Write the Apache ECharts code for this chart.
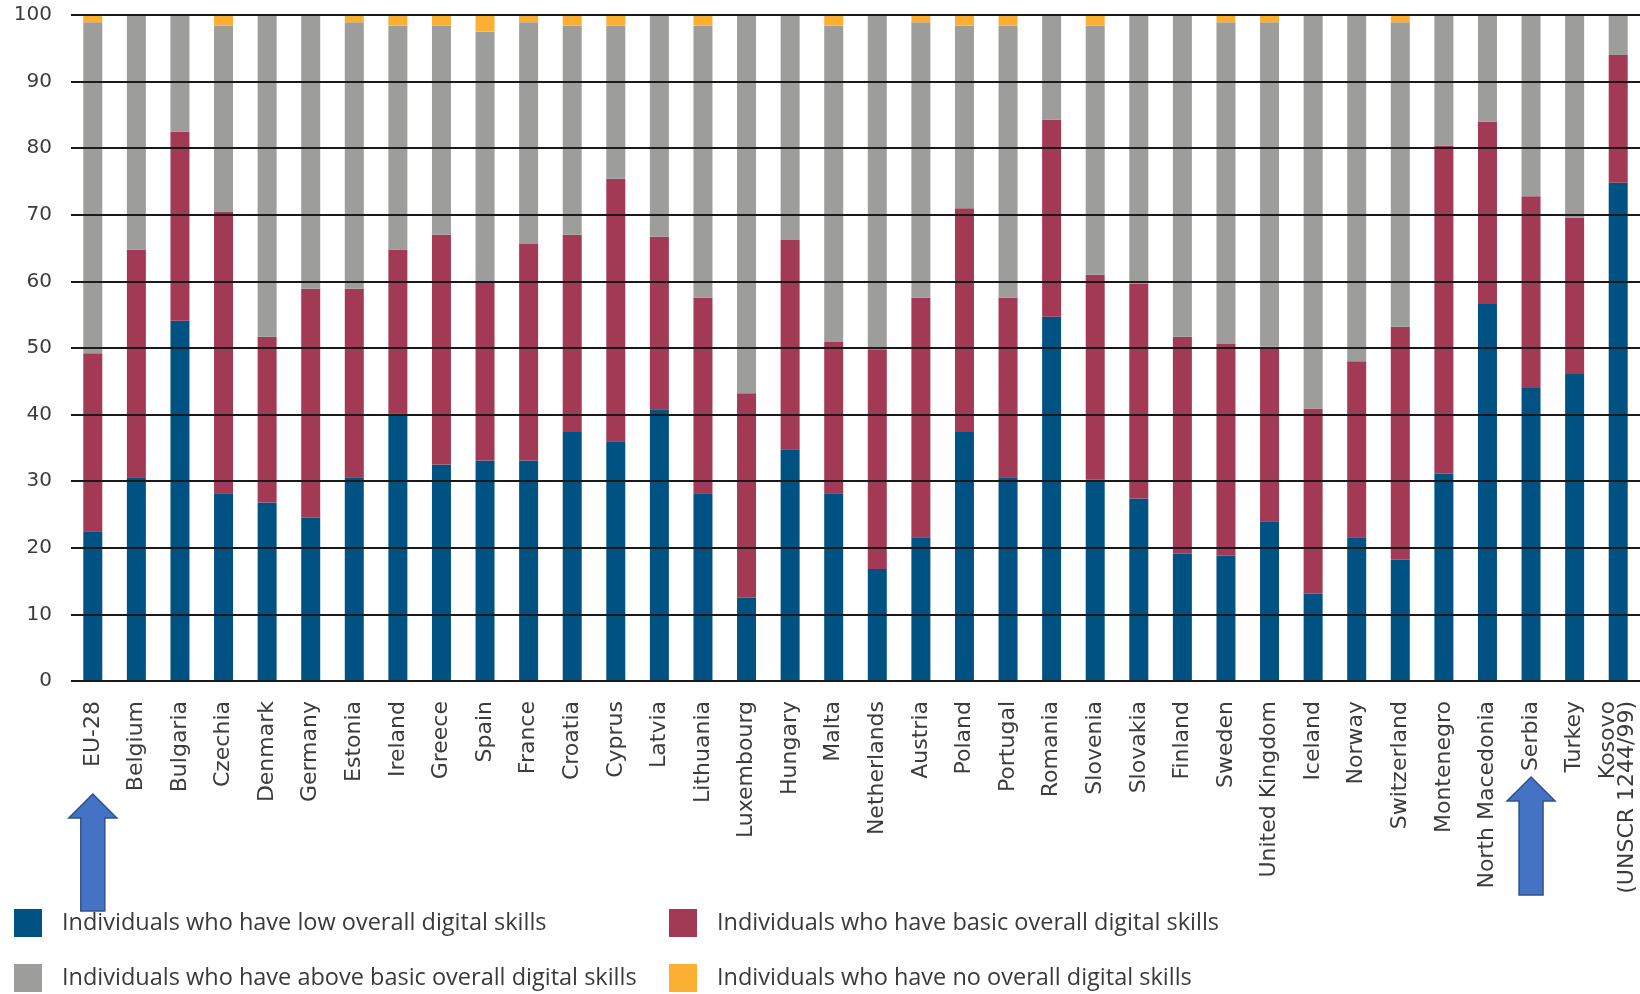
<!DOCTYPE html>
<html>
<head>
<meta charset="utf-8">
<script src="https://cdn.jsdelivr.net/npm/echarts@6/dist/echarts.min.js"></script>
<style>
  html, body { margin: 0; padding: 0; background: #fff; }
  #chart { width: 1640px; height: 994px; }
</style>
</head>
<body>
<div id="chart"></div>
<script>
var countries = ['EU-28', 'Belgium', 'Bulgaria', 'Czechia', 'Denmark', 'Germany', 'Estonia', 'Ireland',
  'Greece', 'Spain', 'France', 'Croatia', 'Cyprus', 'Latvia', 'Lithuania', 'Luxembourg', 'Hungary',
  'Malta', 'Netherlands', 'Austria', 'Poland', 'Portugal', 'Romania', 'Slovenia', 'Slovakia', 'Finland',
  'Sweden', 'United Kingdom', 'Iceland', 'Norway', 'Switzerland', 'Montenegro', 'North Macedonia',
  'Serbia', 'Turkey', 'Kosovo\n(UNSCR 1244/99)'];

var lowSkills = [22.5, 30.6, 54.1, 28.2, 26.8, 24.5, 30.6, 40.2, 32.5, 33.1, 33.1, 37.4, 36.0, 40.8,
  28.2, 12.5, 34.8, 28.2, 16.8, 21.6, 37.4, 30.6, 54.7, 30.2, 27.4, 19.1, 18.8, 24.0, 13.1, 21.6,
  18.2, 31.1, 56.6, 44.0, 46.1, 74.8];
var basicSkills = [26.7, 34.2, 28.4, 42.3, 24.9, 34.4, 28.3, 24.6, 34.5, 26.7, 32.5, 29.6, 39.4, 25.9,
  29.4, 30.7, 31.4, 22.7, 33.0, 36.0, 33.6, 27.0, 29.6, 30.8, 32.2, 32.6, 31.8, 26.2, 27.8, 26.4,
  35.0, 49.3, 27.4, 28.8, 23.5, 19.2];
var aboveBasicSkills = [49.7, 35.2, 17.5, 27.9, 48.3, 41.1, 40.0, 33.6, 31.4, 37.7, 33.3, 31.4, 23.0,
  33.3, 40.8, 56.8, 33.8, 47.5, 50.2, 41.3, 27.4, 40.8, 15.7, 37.4, 40.4, 48.3, 48.3, 48.7, 59.1,
  52.0, 45.7, 19.6, 16.0, 27.2, 30.4, 6.0];
var noSkills = [1.1, 0, 0, 1.6, 0, 0, 1.1, 1.6, 1.6, 2.5, 1.1, 1.6, 1.6, 0, 1.6, 0, 0, 1.6, 0, 1.1,
  1.6, 1.6, 0, 1.6, 0, 0, 1.1, 1.1, 0, 0, 1.1, 0, 0, 0, 0, 0];

var seriesNames = [
  'Individuals who have low overall digital skills',
  'Individuals who have basic overall digital skills',
  'Individuals who have above basic overall digital skills',
  'Individuals who have no overall digital skills'
];

// blue arrows pointing at highlighted categories
var arrows = [
  { category: 'EU-28', tip: 794, bottom: 911 },
  { category: 'Serbia', tip: 777, bottom: 895 }
];

var chart = echarts.init(document.getElementById('chart'));

var labelFont = 'DejaVu Sans';
var legendText = { fontFamily: 'Open Sans', fontSize: 23.5, color: '#3a3a3a', padding: [0, 0, 0, 15] };

function barSeries(name, data, color) {
  return {
    name: name,
    type: 'bar',
    stack: 'total',
    barWidth: 19,
    data: data,
    itemStyle: { color: color }
  };
}

var option = {
  animation: false,
  backgroundColor: '#fff',
  grid: { left: 71, right: 0, top: 15, bottom: 313, outerBoundsMode: 'none' },
  legend: [
    {
      orient: 'vertical', left: 14, top: 909, padding: 0,
      itemWidth: 28, itemHeight: 28, itemGap: 27, icon: 'rect',
      data: [seriesNames[0], seriesNames[2]],
      textStyle: legendText
    },
    {
      orient: 'vertical', left: 669, top: 909, padding: 0,
      itemWidth: 28, itemHeight: 28, itemGap: 27, icon: 'rect',
      data: [seriesNames[1], seriesNames[3]],
      textStyle: legendText
    }
  ],
  xAxis: {
    type: 'category',
    data: countries,
    axisLine: { show: false },
    axisTick: { show: false },
    axisLabel: {
      interval: 0,
      rotate: 90,
      margin: 20,
      fontFamily: labelFont,
      fontSize: 22,
      lineHeight: 19,
      color: '#3c3c3c'
    }
  },
  yAxis: {
    type: 'value',
    min: 0,
    max: 100,
    interval: 10,
    z: 10,
    axisLine: { show: false },
    axisTick: { show: false },
    axisLabel: { margin: 19, fontFamily: labelFont, fontSize: 20, color: '#3c3c3c' },
    splitLine: { lineStyle: { color: '#1a1a1a', width: 2 } }
  },
  series: [
    barSeries(seriesNames[0], lowSkills, '#005282'),
    barSeries(seriesNames[1], basicSkills, '#a23a55'),
    barSeries(seriesNames[2], aboveBasicSkills, '#9d9d9c'),
    barSeries(seriesNames[3], noSkills, '#fbb034')
  ]
};

chart.setOption(option);

var arrowShapes = arrows.map(function (a) {
  var x = chart.convertToPixel({ xAxisIndex: 0 }, a.category);
  var head = a.tip + 24;
  return {
    type: 'polygon',
    z: 100,
    shape: {
      points: [[x, a.tip], [x + 24, head], [x + 12, head], [x + 12, a.bottom],
        [x - 12, a.bottom], [x - 12, head], [x - 24, head]]
    },
    style: { fill: '#4472c4', stroke: '#2f528f', lineWidth: 1.5 }
  };
});

chart.setOption({ graphic: arrowShapes });
</script>
</body>
</html>
